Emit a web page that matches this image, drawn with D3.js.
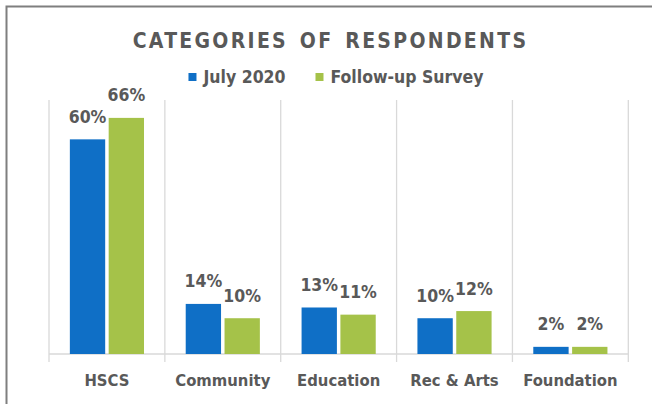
<!DOCTYPE html>
<html>
<head>
<meta charset="utf-8">
<script src="https://cdn.jsdelivr.net/npm/d3@7"></script>
<style>
  html, body { margin: 0; padding: 0; background: #ffffff; }
  svg { display: block; }
  text { font-family: "DejaVu Sans Condensed", "DejaVu Sans", sans-serif; font-stretch: condensed; }
</style>
</head>
<body>
<svg id="chart" width="652" height="404"></svg>
<script>
// Categories and series values (percent of respondents)
const categories = ["HSCS", "Community", "Education", "Rec & Arts", "Foundation"];
const seriesNames = ["July 2020", "Follow-up Survey"];
const july2020 = [60, 14, 13, 10, 2];
const followUpSurvey = [66, 10, 11, 12, 2];
const seriesColors = ["#0F6FC6", "#A5C249"];
const titleText = "CATEGORIES OF RESPONDENTS";

const svg = d3.select("#chart");
const W = 652, H = 404;

svg.append("rect").attr("width", W).attr("height", H).attr("fill", "#ffffff");

// Chart frame (open to the right and bottom)
svg.append("rect")
  .attr("x", 6.5).attr("y", 6.5)
  .attr("width", 700).attr("height", 500)
  .attr("fill", "none")
  .attr("stroke", "#7f7f7f")
  .attr("stroke-width", 2);

const plot = { left: 49, right: 628.3, top: 100, bottom: 354 };

const x0 = d3.scaleBand()
  .domain(categories)
  .range([plot.left, plot.right])
  .paddingInner(0).paddingOuter(0);

const bw = x0.bandwidth();
const x1 = d3.scaleBand()
  .domain(seriesNames)
  .range([bw * 0.18, bw * 0.82])
  .paddingInner(0.09);

const y = d3.scaleLinear().domain([0, 71]).range([plot.bottom, plot.top]);

const grid = "#D9D9D9";

// Category separators, extending below the baseline as tick marks
const bounds = categories.map(c => x0(c)).concat([plot.right]);
svg.append("g").selectAll("line")
  .data(bounds)
  .join("line")
  .attr("x1", d => d).attr("x2", d => d)
  .attr("y1", plot.top).attr("y2", plot.bottom + 8)
  .attr("stroke", grid).attr("stroke-width", 1.3);

// Baseline
svg.append("line")
  .attr("x1", plot.left).attr("x2", plot.right)
  .attr("y1", plot.bottom).attr("y2", plot.bottom)
  .attr("stroke", grid).attr("stroke-width", 1.3);

// Bars
const rows = categories.map((c, i) => ({
  category: c,
  values: [
    { name: seriesNames[0], value: july2020[i], color: seriesColors[0] },
    { name: seriesNames[1], value: followUpSurvey[i], color: seriesColors[1] }
  ]
}));

const groups = svg.append("g").selectAll("g")
  .data(rows)
  .join("g")
  .attr("transform", d => `translate(${x0(d.category)},0)`);

groups.selectAll("rect")
  .data(d => d.values)
  .join("rect")
  .attr("x", d => x1(d.name))
  .attr("width", x1.bandwidth())
  .attr("y", d => y(d.value))
  .attr("height", d => y(0) - y(d.value))
  .attr("fill", d => d.color);

// Data labels
groups.selectAll("text.val")
  .data(d => d.values)
  .join("text")
  .attr("class", "val")
  .attr("x", d => x1(d.name) + x1.bandwidth() / 2)
  .attr("y", d => y(d.value) - 16.5)
  .attr("text-anchor", "middle")
  .attr("font-size", "17.5px")
  .attr("font-weight", "bold")
  .attr("fill", "#595959")
  .text(d => d.value + "%");

// Category axis labels
const axis = d3.axisBottom(x0).tickSize(0).tickPadding(0);
const axisG = svg.append("g")
  .attr("transform", `translate(0,${plot.bottom})`)
  .call(axis);
axisG.select(".domain").remove();
axisG.selectAll("text")
  .attr("y", 32)
  .attr("dy", 0)
  .attr("font-size", "16.5px")
  .attr("font-weight", "bold")
  .attr("font-family", null)
  .attr("fill", "#595959");

// Title
svg.append("text")
  .attr("x", 330.5)
  .attr("y", 47.5)
  .attr("text-anchor", "middle")
  .attr("font-size", "21px")
  .attr("font-weight", "bold")
  .attr("letter-spacing", "2.3px")
  .attr("word-spacing", "3px")
  .attr("fill", "#595959")
  .text(titleText);

// Legend
const legend = svg.append("g");
const items = legend.selectAll("g")
  .data(seriesNames)
  .join("g");
items.append("rect")
  .attr("width", 8).attr("height", 8)
  .attr("y", -10)
  .attr("fill", (d, i) => seriesColors[i]);
items.append("text")
  .attr("x", 15)
  .attr("y", 0)
  .attr("font-size", "17.5px")
  .attr("font-weight", "bold")
  .attr("fill", "#595959")
  .text(d => d);

let cursor = 0;
const offsets = [];
items.each(function () {
  offsets.push(cursor);
  const w = 15 + d3.select(this).select("text").node().getComputedTextLength();
  cursor += w + 30;
});
const total = cursor - 30;
items.attr("transform", (d, i) => `translate(${offsets[i]},0)`);
legend.attr("transform", `translate(${336 - total / 2},83)`);
</script>
</body>
</html>
